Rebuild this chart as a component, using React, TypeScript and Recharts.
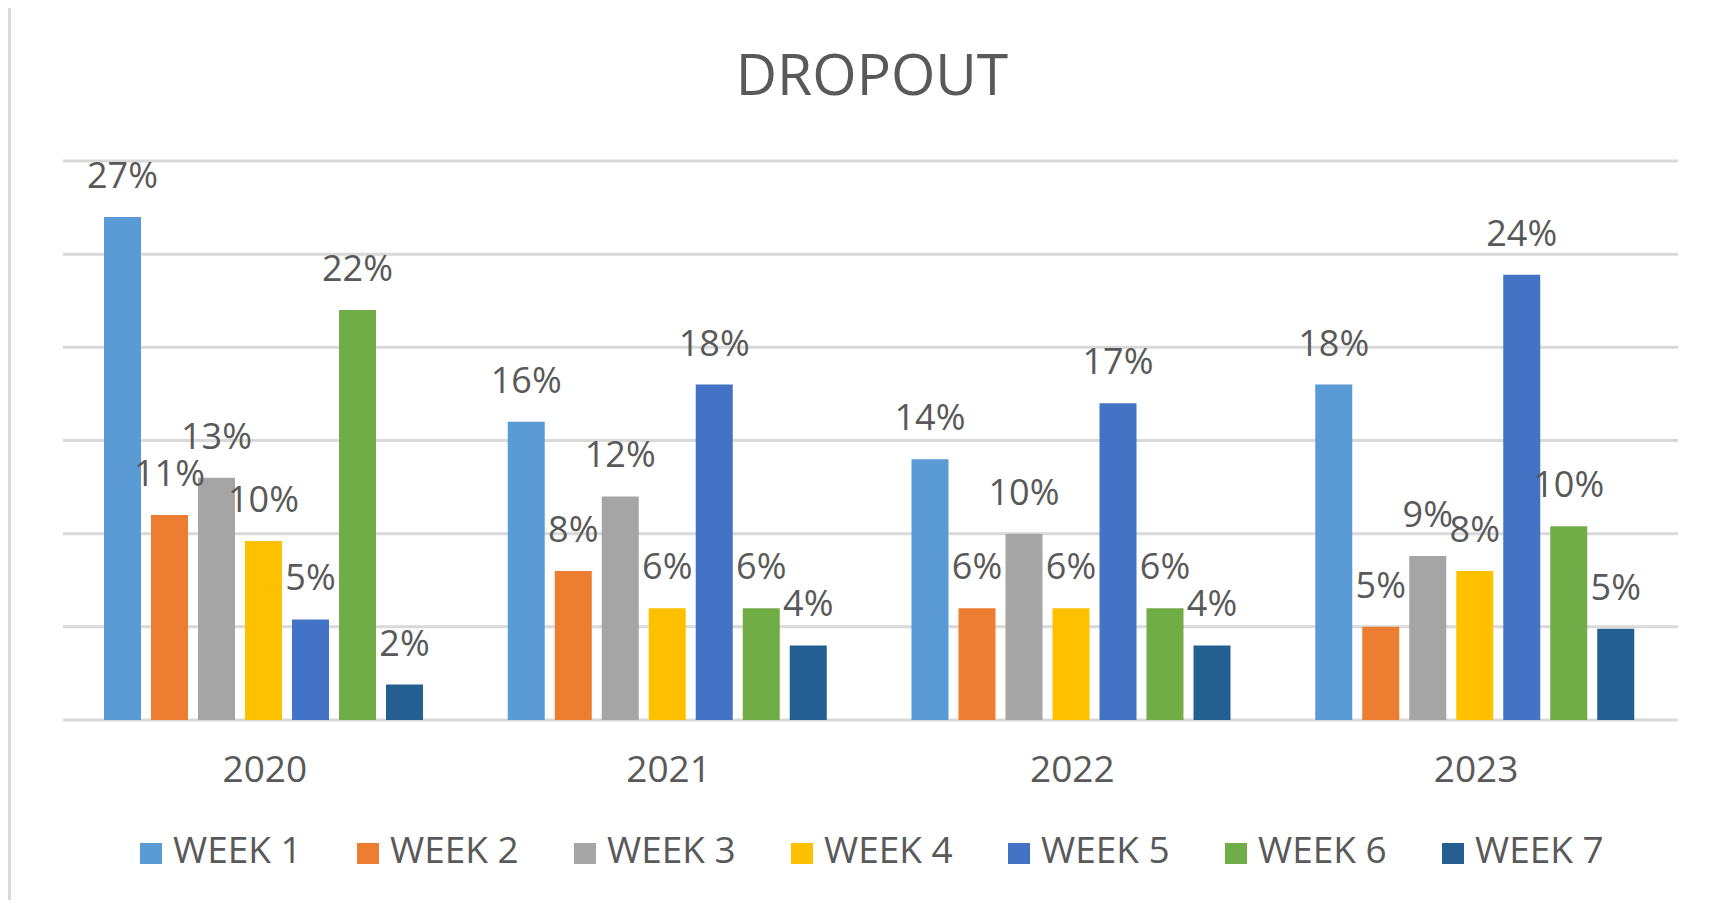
import { Bar, BarChart, CartesianGrid, LabelList, Legend, XAxis, YAxis } from "recharts"

const years = ["2020", "2021", "2022", "2023"]
const weekNames = ["WEEK 1", "WEEK 2", "WEEK 3", "WEEK 4", "WEEK 5", "WEEK 6", "WEEK 7"]

// dropout % per week, one value per year
const week1 = [27, 16, 14, 18]
const week2 = [11, 8, 6, 5]
const week3 = [13, 12, 10, 8.8]
const week4 = [9.6, 6, 6, 8]
const week5 = [5.4, 18, 17, 23.9]
const week6 = [22, 6, 6, 10.4]
const week7 = [1.9, 4, 4, 4.9]

const yTicks = [0, 5, 10, 15, 20, 25, 30]

const colors = ["#5B9BD5", "#ED7D31", "#A5A5A5", "#FFC000", "#4472C4", "#70AD47", "#255E91"]
const series = [week1, week2, week3, week4, week5, week6, week7]

const data = years.map((year, i) => {
  const row: Record<string, string | number> = { year }
  weekNames.forEach((w, k) => {
    row[w] = series[k][i]
  })
  return row
})

const textColor = "#595959"
const font = "'Open Sans', sans-serif"

const renderLabel = (props: any) => {
  const { x, y, width, value } = props
  return (
    <text
      x={Number(x) + Number(width) / 2}
      y={Number(y) - 29}
      textAnchor="middle"
      fill={textColor}
      fontSize={36}
      fontFamily={font}
    >
      {Math.round(Number(value))}%
    </text>
  )
}

const renderTick = (props: any) => {
  const { x, y, payload } = props
  return (
    <text x={x} y={y + 62} textAnchor="middle" fill={textColor} fontSize={37} fontFamily={font}>
      {payload.value}
    </text>
  )
}

const renderLegend = () => (
  <svg width={1560} height={70} style={{ overflow: "visible" }}>
    {weekNames.map((name, i) => (
      <g key={name} transform={`translate(${i * 217}, 0)`}>
        <rect x={0} y={23} width={22} height={21} fill={colors[i]} />
        <text x={33} y={43} fill={textColor} fontSize={37} fontFamily={font}>
          {name}
        </text>
      </g>
    ))}
  </svg>
)

export default function App() {
  return (
    <div style={{ position: "relative", width: 1703, height: 900, marginTop: -8, marginLeft: -8, overflow: "hidden", background: "#fff" }}>
      <div
        style={{
          position: "absolute",
          left: 8,
          top: 4,
          width: 1760,
          height: 960,
          border: "3px solid #d9d9d9",
          boxSizing: "border-box",
        }}
      />
      <svg width={1711} height={120} style={{ position: "absolute", left: 0, top: 0 }}>
        <text x={872} y={95} textAnchor="middle" fill={textColor} fontSize={57} fontFamily={font}>
          DROPOUT
        </text>
      </svg>
      <div style={{ position: "absolute", left: 0, top: 0 }}>
        <BarChart
          width={1711}
          height={910}
          data={data}
          margin={{ top: 161, right: 33, bottom: 130, left: 63 }}
          barCategoryGap={41}
          barGap={10}
        >
          <CartesianGrid vertical={false} stroke="#d9d9d9" strokeWidth={3} />
          <YAxis hide domain={[0, 30]} ticks={yTicks} width={0} />
          <XAxis
            dataKey="year"
            axisLine={false}
            tickLine={false}
            tickSize={0}
            tickMargin={0}
            height={60}
            tick={renderTick}
            interval={0}
          />
          <Legend
            verticalAlign="middle"
            content={renderLegend}
            wrapperStyle={{ left: 140, top: 820, width: 1560, height: 70 }}
          />
          {weekNames.map((name, i) => (
            <Bar key={name} dataKey={name} fill={colors[i]} isAnimationActive={false}>
              <LabelList dataKey={name} content={renderLabel} />
            </Bar>
          ))}
        </BarChart>
      </div>
    </div>
  )
}
